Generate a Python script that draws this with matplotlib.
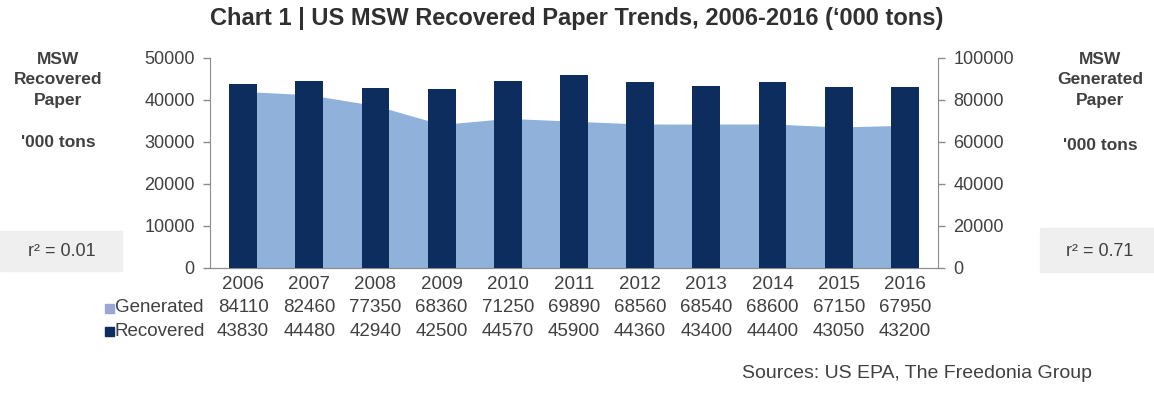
import numpy as np
import matplotlib.pyplot as plt
from matplotlib.patches import Rectangle
import matplotlib.transforms as mtransforms

plt.rcParams['font.family'] = ['Liberation Sans', 'DejaVu Sans']

years = ['2006', '2007', '2008', '2009', '2010', '2011', '2012', '2013', '2014', '2015', '2016']
generated = [84110, 82460, 77350, 68360, 71250, 69890, 68560, 68540, 68600, 67150, 67950]
recovered = [43830, 44480, 42940, 42500, 44570, 45900, 44360, 43400, 44400, 43050, 43200]

bar_color = '#0c2d5e'
area_color = '#8fb1da'
gen_square = '#9aa6d4'
axis_gray = '#8c8c8c'
text_col = '#404040'
W, H = 1154, 395

x = np.arange(len(years))

fig = plt.figure(figsize=(11.54, 3.95), dpi=100)
ax = fig.add_axes([210 / W, 1 - 268 / H, 728 / W, 210 / H])
ax2 = ax.twinx()

# area (generated) on right axis, behind bars
ax2.fill_between(x, generated, 0, color=area_color, linewidth=0)
ax2.set_ylim(0, 100000)
ax2.set_yticks(np.arange(0, 100001, 20000))

ax.bar(x, recovered, width=0.42, color=bar_color, zorder=3)
ax.set_ylim(0, 50000)
ax.set_yticks(np.arange(0, 50001, 10000))
ax.set_xlim(-0.5, len(years) - 0.5)
ax.set_zorder(2)
ax.patch.set_visible(False)

for a in (ax, ax2):
    for s in a.spines.values():
        s.set_color(axis_gray)
    a.spines['top'].set_visible(False)
    a.tick_params(axis='y', colors=axis_gray, labelcolor=text_col, labelsize=13, length=5, width=1)
ax.spines['right'].set_visible(False)
ax2.spines['left'].set_visible(False)
ax.tick_params(axis='y', pad=6)
ax2.tick_params(axis='y', pad=6)

ax.set_xticks(x)
ax.set_xticklabels(years, fontsize=13.5, color=text_col)
ax.tick_params(axis='x', length=0, pad=6)

# data table below the axis
trans = mtransforms.blended_transform_factory(ax.transData, fig.transFigure)
row_gen = 1 - 308 / H
row_rec = 1 - 331 / H
for i in x:
    ax.text(i, row_gen, str(generated[i]), transform=trans, ha='center', va='center',
            fontsize=13.5, color=text_col)
    ax.text(i, row_rec, str(recovered[i]), transform=trans, ha='center', va='center',
            fontsize=13.5, color=text_col)

fig.text(115 / W, row_gen, 'Generated', ha='left', va='center', fontsize=13.5, color=text_col)
fig.text(115 / W, row_rec, 'Recovered', ha='left', va='center', fontsize=13.5, color=text_col)
fig.patches.append(Rectangle((105 / W, row_gen - 4.5 / H), 9 / W, 9 / H,
                             transform=fig.transFigure, color=gen_square, figure=fig))
fig.patches.append(Rectangle((105 / W, row_rec - 4.5 / H), 9 / W, 9 / H,
                             transform=fig.transFigure, color=bar_color, figure=fig))

# title
fig.text(0.5, 1 - 19 / H, "Chart 1 | US MSW Recovered Paper Trends, 2006-2016 (\u2018000 tons)",
         ha='center', va='center', fontsize=17, fontweight='bold', color='#303030')

# side labels
fig.text(58 / W, 1 - 80 / H, 'MSW\nRecovered\nPaper', ha='center', va='center',
         fontsize=12.5, fontweight='bold', color=text_col, linespacing=1.5)
fig.text(58 / W, 1 - 143 / H, "'000 tons", ha='center', va='center',
         fontsize=12.5, fontweight='bold', color=text_col)
fig.text(1100 / W, 1 - 80 / H, 'MSW\nGenerated\nPaper', ha='center', va='center',
         fontsize=12.5, fontweight='bold', color=text_col, linespacing=1.5)
fig.text(1100 / W, 1 - 146 / H, "'000 tons", ha='center', va='center',
         fontsize=12.5, fontweight='bold', color=text_col)

fig.patches.append(Rectangle((0, 1 - 271 / H), 122 / W, 40 / H,
                             transform=fig.transFigure, color='#efefef', figure=fig, zorder=0))
fig.patches.append(Rectangle((1040 / W, 1 - 272 / H), 114 / W, 44 / H,
                             transform=fig.transFigure, color='#efefef', figure=fig, zorder=0))
fig.text(62 / W, 1 - 252 / H, 'r\u00b2 = 0.01', ha='center', va='center', fontsize=13, color=text_col)
fig.text(1100 / W, 1 - 252 / H, 'r\u00b2 = 0.71', ha='center', va='center', fontsize=13, color=text_col)

fig.text(1092 / W, 1 - 374 / H, 'Sources: US EPA, The Freedonia Group', ha='right', va='center',
         fontsize=14, color=text_col)

fig.savefig('out.png', dpi=100)
